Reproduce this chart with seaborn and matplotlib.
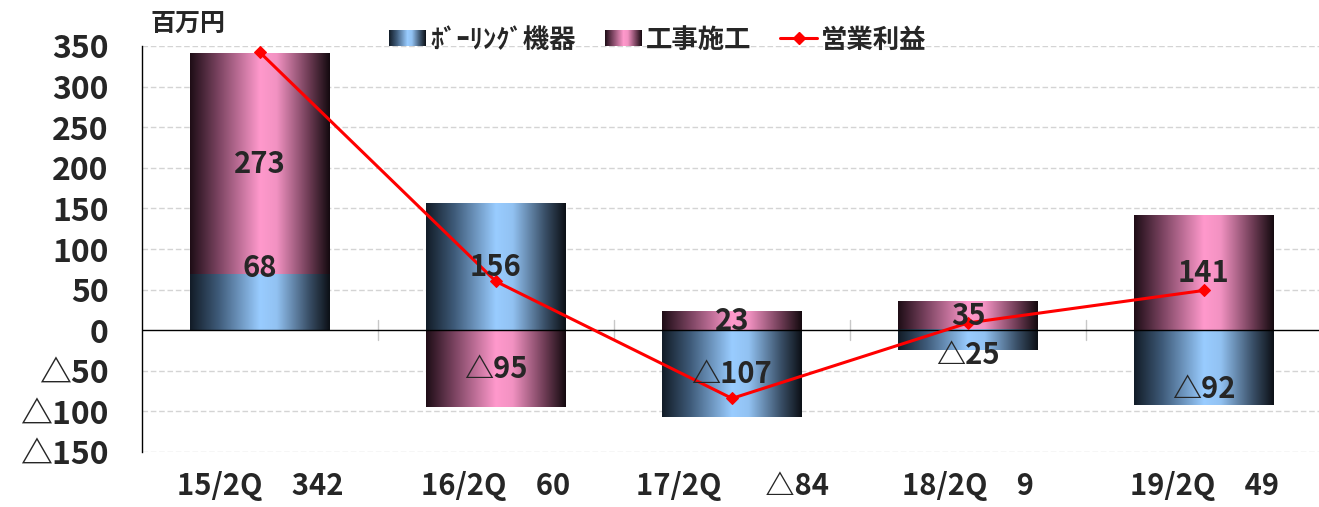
import numpy as np
import pandas as pd
import matplotlib
matplotlib.use("Agg")
import matplotlib.pyplot as plt
import seaborn as sns
from matplotlib.colors import LinearSegmentedColormap
from matplotlib.patches import Rectangle
from matplotlib.lines import Line2D
from matplotlib.legend_handler import HandlerBase
from matplotlib.image import BboxImage
from matplotlib.transforms import Bbox, TransformedBbox

# ---- data (百万円) ----
periods = ["15/2Q", "16/2Q", "17/2Q", "18/2Q", "19/2Q"]
boring = [68, 156, -107, -25, -92]          # ﾎﾞｰﾘﾝｸﾞ機器
construction = [273, -95, 23, 35, 141]      # 工事施工
profit = [342, 60, -84, 9, 49]              # 営業利益
yticks = [-150, -100, -50, 0, 50, 100, 150, 200, 250, 300, 350]

sns.set_theme(style="white")
plt.rcParams["font.family"] = ["Noto Sans CJK JP", "DejaVu Sans"]
plt.rcParams["font.weight"] = "bold"


def fmt(v):
    return f"△{abs(v)}" if v < 0 else f"{v}"


blue_cmap = LinearSegmentedColormap.from_list(
    "blue_grad", [(0.0, "#121c27"), (0.2, "#3e5a78"), (0.5, "#99ccff"),
                  (0.62, "#92c2f2"), (0.85, "#3a5068"), (1.0, "#0c1016")])
pink_cmap = LinearSegmentedColormap.from_list(
    "pink_grad", [(0.0, "#1e0d16"), (0.2, "#7a4360"), (0.5, "#ff99cc"),
                  (0.62, "#f292c2"), (0.85, "#6e3c55"), (1.0, "#140a0f")])
grad = np.linspace(0, 1, 256).reshape(1, -1)

fig = plt.figure(figsize=(13.19, 5.07), dpi=100)
ax = fig.add_axes([142 / 1319, 55 / 507, 1180 / 1319, 406 / 507])

# construction segment sits on top of the boring segment when both share a sign
stack_top = [c + b if (c > 0) == (b > 0) else c for b, c in zip(boring, construction)]
df = pd.DataFrame({"period": periods, "boring": boring,
                   "construction": construction, "top": stack_top})

bar_w = 0.593
sns.barplot(data=df, x="period", y="top", width=bar_w, color="#ff99cc",
            ax=ax, zorder=2)
n_pink = len(ax.patches)
sns.barplot(data=df, x="period", y="boring", width=bar_w, color="#99ccff",
            ax=ax, zorder=3)

# replace the flat fills with horizontal gradients
for i, p in enumerate(ax.patches):
    cmap = pink_cmap if i < n_pink else blue_cmap
    x0, w = p.get_x(), p.get_width()
    y0, h = p.get_y(), p.get_height()
    ax.imshow(grad, cmap=cmap, aspect="auto", interpolation="bicubic",
              extent=[x0, x0 + w, y0, y0 + h], zorder=p.get_zorder())
    p.set_visible(False)

# operating profit line
sns.lineplot(x=np.arange(len(periods)), y=profit, color="#ff0000", lw=2.2,
             marker="D", markersize=6, markeredgecolor="#ff0000", ax=ax,
             zorder=5, legend=False)

# segment labels
label_shift = {(0, "b"): 42, (3, "b"): -18, (4, "b"): -27}
for i in range(len(periods)):
    b, c = boring[i], construction[i]
    b_mid = b / 2
    c_base = b if (c > 0) == (b > 0) else 0
    c_mid = c_base + c / 2
    ax.text(i, b_mid + label_shift.get((i, "b"), 0), fmt(b), ha="center",
            va="center", fontsize=21, fontweight="bold", zorder=6)
    ax.text(i, c_mid + label_shift.get((i, "c"), 0), fmt(c), ha="center",
            va="center", fontsize=21, fontweight="bold", zorder=6)

# axes styling
ax.set_xlim(-0.5, len(periods) - 0.5)
ax.set_ylim(-150, 350)
ax.set_yticks(yticks)
ax.set_yticklabels([fmt(v) for v in yticks], fontsize=23, fontweight="bold")
for v in yticks:
    if v != 0:
        ax.axhline(v, color="#d4d4d4", lw=1, ls=(0, (4, 2)), zorder=1)
ax.axhline(0, color="black", lw=1, zorder=4)
for xb in np.arange(0.5, len(periods) - 0.5, 1):
    ax.plot([xb, xb], [-12, 12], color="#c8c8c8", lw=1, zorder=1)

xlabels = ["15/2Q\u2002\u2002342", "16/2Q\u2002\u200260", "17/2Q\u2002\u2002\u2002△84",
           "18/2Q\u2002\u20029", "19/2Q\u2002\u200249"]
ax.set_xticks(range(len(periods)))
ax.set_xticklabels(xlabels, fontsize=21, fontweight="bold")
ax.set_xlabel("")
ax.set_ylabel("")
ax.tick_params(axis="both", length=0)
ax.tick_params(axis="y", pad=24)
ax.tick_params(axis="x", pad=14)
for s in ["top", "right", "bottom"]:
    ax.spines[s].set_visible(False)
ax.spines["left"].set_color("black")
ax.spines["left"].set_linewidth(1)

fig.text(150 / 1319, 1 - 24 / 507, "百万円", fontsize=18, fontweight="bold",
         va="center", ha="left")


class GradientHandler(HandlerBase):
    def __init__(self, cmap):
        super().__init__()
        self.cmap = cmap

    def create_artists(self, legend, orig_handle, xdescent, ydescent,
                       width, height, fontsize, trans):
        bb = Bbox.from_bounds(-xdescent, -ydescent + height * 0.1,
                              width, height * 0.8)
        img = BboxImage(TransformedBbox(bb, trans), cmap=self.cmap,
                        interpolation="bicubic")
        img.set_data(grad)
        return [img]


h_blue = Rectangle((0, 0), 1, 1)
h_pink = Rectangle((0, 0), 1, 1)
h_line = Line2D([], [], color="#ff0000", lw=2.2, marker="D", markersize=6)
fig.legend([h_blue, h_pink, h_line], ["ﾎﾞｰﾘﾝｸﾞ機器", "工事施工", "営業利益"],
           handler_map={h_blue: GradientHandler(blue_cmap),
                        h_pink: GradientHandler(pink_cmap)},
           loc="center", bbox_to_anchor=(658 / 1319, 1 - 40 / 507), ncol=3,
           frameon=False, prop={"size": 19, "weight": "bold"},
           handlelength=1.4, handleheight=0.75, handletextpad=0.15,
           columnspacing=1.1)

fig.savefig("out.png", dpi=100)
